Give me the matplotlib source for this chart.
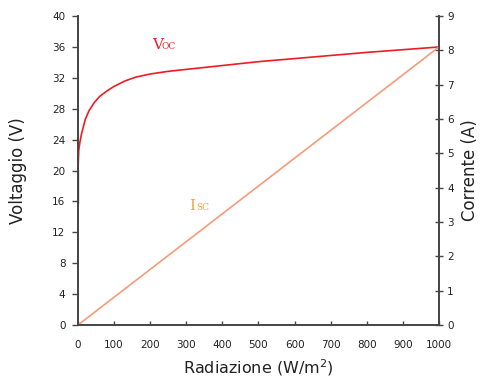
import numpy as np
import matplotlib
matplotlib.use('Agg')
import matplotlib.pyplot as plt

# dati
radiazione = [0, 2, 5, 10, 20, 30, 45, 60, 80, 100, 130, 160, 200, 250, 300,
              400, 500, 600, 700, 800, 900, 1000]
voc = [20.0, 22.6, 23.6, 24.8, 26.6, 27.7, 28.8, 29.6, 30.3, 30.9, 31.6, 32.1,
       32.5, 32.85, 33.1, 33.6, 34.1, 34.5, 34.9, 35.3, 35.65, 36.0]
rad_isc = [0, 1000]
isc = [0, 8.1]
seg_v = [15.8, 20.0]

plt.rcParams['font.family'] = ['DejaVu Sans']
fig = plt.figure(figsize=(4.8, 3.79), dpi=100)
ax = fig.add_axes([0.1625, 0.1425, 0.752, 0.815])
ax2 = ax.twinx()

spine_col = '#444444'
ax.plot(radiazione, voc, color='#ee1c25', lw=1.2, zorder=3)
ax.plot([0, 0], seg_v, color='#222222', lw=1.6, zorder=3)
ax2.plot(rad_isc, isc, color='#f59b7b', lw=1.2)

ax.set_xlim(0, 1000)
ax.set_ylim(0, 40)
ax2.set_ylim(0, 9)
ax.set_xticks(np.arange(0, 1001, 100))
ax.set_yticks(np.arange(0, 41, 4))
ax2.set_yticks(np.arange(0, 10, 1))

for a in (ax, ax2):
    a.spines['top'].set_visible(False)
    for s in ('left', 'right', 'bottom'):
        a.spines[s].set_color(spine_col)
        a.spines[s].set_linewidth(1.2)

ax.tick_params(axis='y', direction='out', length=4, width=1, color=spine_col,
               labelsize=7.5, pad=5, labelcolor='#222222')
ax.tick_params(axis='x', direction='in', length=3, width=1, color=spine_col,
               labelsize=7.5, pad=11, labelcolor='#222222')
ax2.tick_params(axis='y', direction='inout', length=6, width=1, color=spine_col,
                labelsize=7.5, pad=3, labelcolor='#222222')

ax.set_ylabel('Voltaggio (V)', fontsize=12, color='#222222', labelpad=18)
ax2.set_ylabel('Corrente (A)', fontsize=12, color='#222222', labelpad=5)
ax.set_xlabel('Radiazione (W/m$^2$)', fontsize=11.5, color='#222222', labelpad=5)

ax.text(205, 35.8, 'V', color='#e8202a', fontsize=11, family='DejaVu Serif',
        ha='left', va='baseline')
ax.text(232, 35.8, 'OC', color='#e8202a', fontsize=6.5, family='DejaVu Serif',
        ha='left', va='baseline')
ax.text(325, 14.9, 'I', color='#f5a040', fontsize=11, family='DejaVu Serif',
        ha='right', va='baseline')
ax.text(327, 14.9, 'SC', color='#f5a040', fontsize=6.5, family='DejaVu Serif',
        ha='left', va='baseline')

fig.savefig('out.png', dpi=100)
